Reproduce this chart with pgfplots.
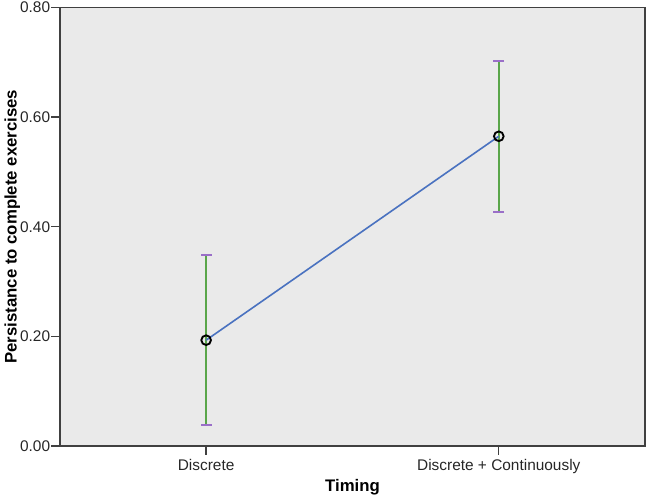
\documentclass[border=0pt]{standalone}
\usepackage{pgfplots}
\pgfplotsset{compat=1.18}
\usepackage{fontspec}
\setmainfont{Liberation Sans}
\definecolor{bgc}{HTML}{EAEAEA}
\definecolor{framec}{HTML}{404040}
\definecolor{linec}{HTML}{4A72C0}
\definecolor{errc}{HTML}{5AA64A}
\definecolor{capc}{HTML}{9A6FC8}

\begin{document}
\begin{tikzpicture}
\begin{axis}[
    scale only axis,
    width=436.5pt,
    height=327pt,
    axis background/.style={fill=bgc},
    axis line style={framec, line width=1.3pt},
    xmin=-0.5, xmax=1.5,
    ymin=0, ymax=0.8,
    xtick={0,1},
    xticklabels={Discrete, Discrete + Continuously},
    ytick={0,0.2,0.4,0.6,0.8},
    yticklabel style={inner xsep=0.5pt, inner ysep=1.5pt},
    y tick label style={/pgf/number format/.cd,fixed,fixed zerofill,precision=2},
    /pgf/number format/assume math mode=true,
    tick align=outside,
    tick pos=left,
    major tick length=6.5pt,
    tick style={framec, line width=1pt},
    ticklabel style={font=\fontsize{11.5}{13}\selectfont, text=black!85},
    xticklabel style={inner ysep=3pt},
    xlabel={\textbf{Timing}},
    ylabel={\textbf{Persistance to complete exercises}},
    label style={font=\fontsize{12.5}{14}\selectfont},
    xlabel style={yshift=2pt},
    ylabel style={yshift=-4pt},
    clip=false,
]
% error bars (vertical)
\addplot[errc, line width=1.5pt] coordinates {(0,0.0385) (0,0.349)};
\addplot[errc, line width=1.5pt] coordinates {(1,0.4275) (1,0.703)};
% caps
\addplot[only marks, mark=-, mark size=4pt, capc, mark options={line width=1.3pt}] coordinates {
(0,0.0385) (0,0.349) (1,0.4275) (1,0.703)};
% means
\addplot[linec, line width=1.2pt, mark=o, mark size=3.6pt, mark options={black, line width=1.4pt}] coordinates {
(0,0.193) (1,0.565)};
\end{axis}
\end{tikzpicture}
\end{document}
